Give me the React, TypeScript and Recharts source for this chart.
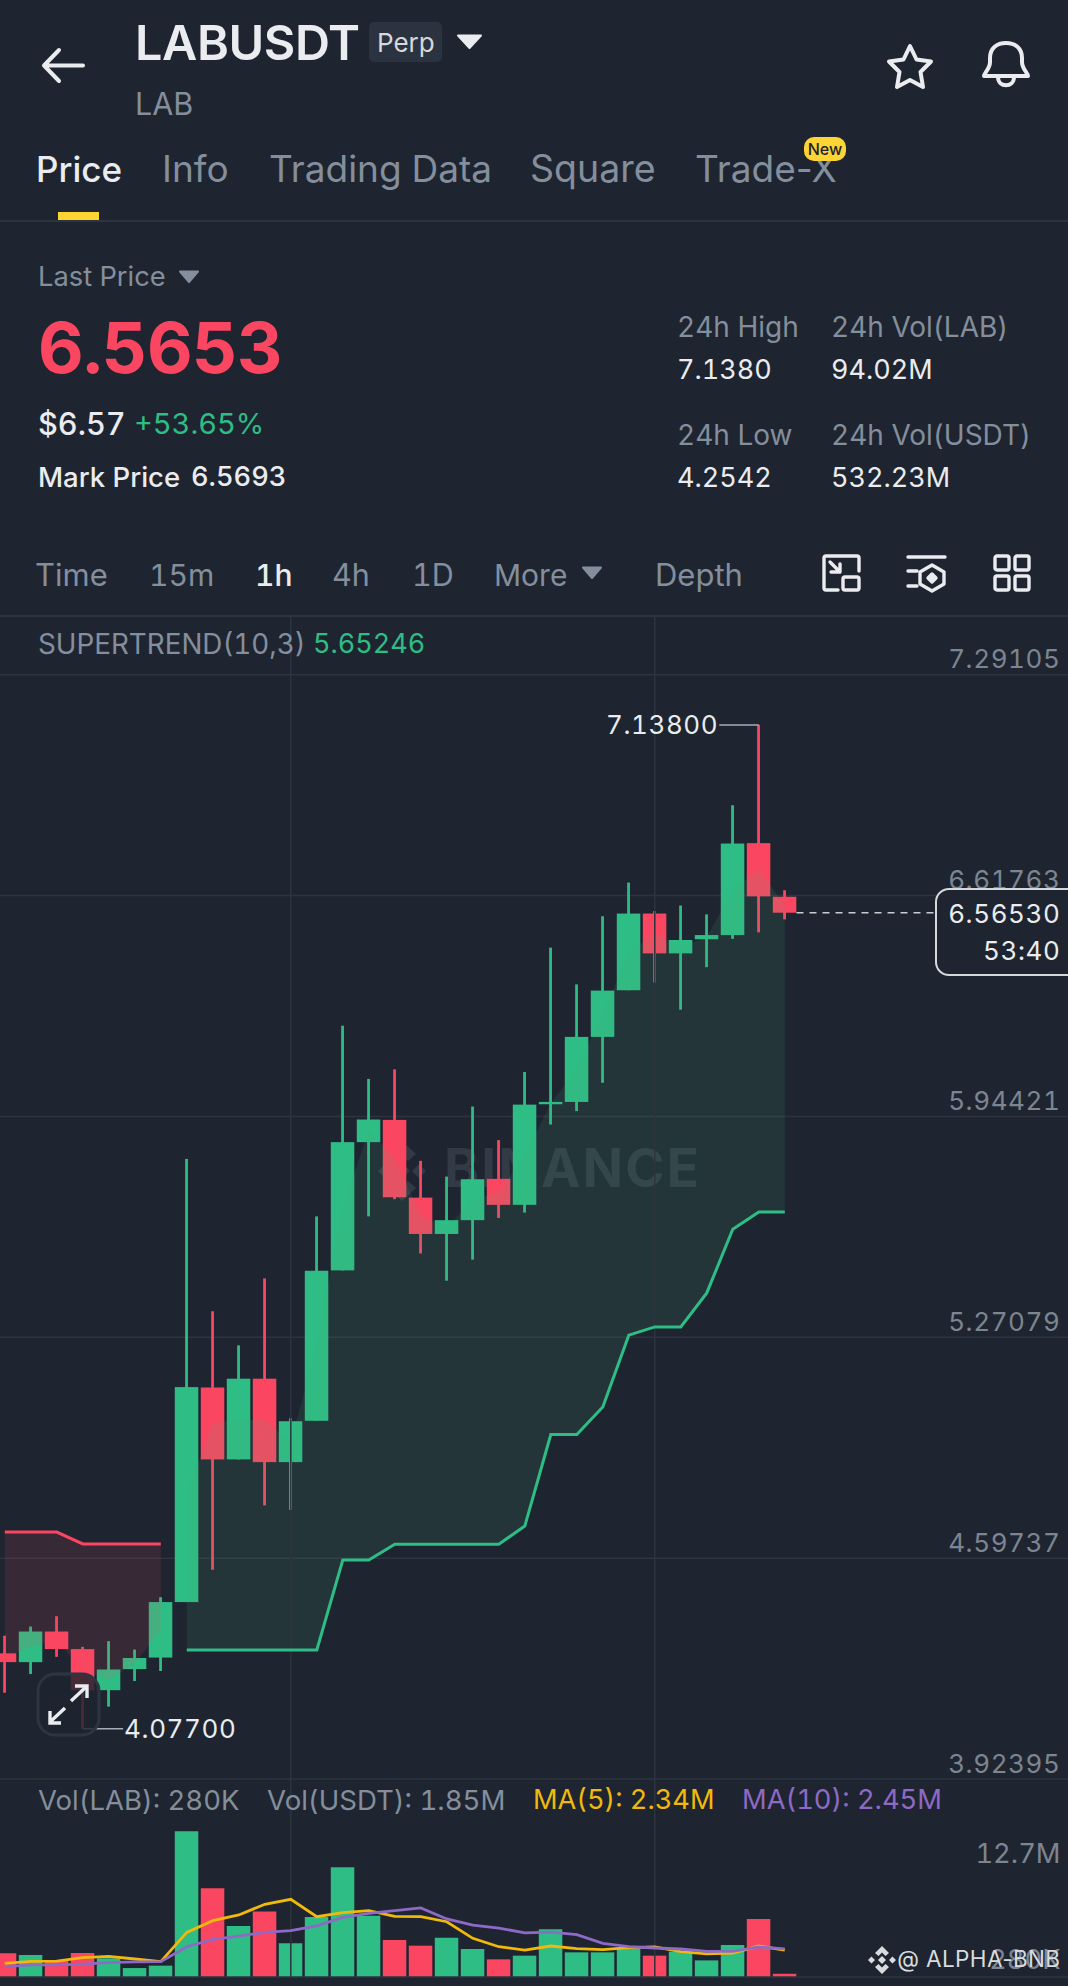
import React from 'react';
import { ComposedChart, Bar, Line, Area, Cell, XAxis, YAxis, CartesianGrid, ReferenceLine, ReferenceDot } from 'recharts';

const highs = [4.3609, 4.3888, 4.4202, 4.3269, 4.3442, 4.3186, 4.4784, 5.8146, 5.3501, 5.2461, 5.4504, 5.0243, 5.6395, 6.2209, 6.0586, 6.0876, 5.8088, 5.7609, 5.9744, 5.8719, 6.0796, 6.4588, 6.3468, 6.5545, 6.6573, 6.5707, 6.5872, 6.5603, 6.8931, 7.138, 6.6338];
const lows = [4.1869, 4.244, 4.2964, 4.077, 4.1447, 4.2228, 4.2533, 4.4634, 4.562, 4.8984, 4.7581, 4.744, 5.0161, 5.4748, 5.6395, 5.692, 5.5264, 5.4434, 5.5075, 5.6346, 5.6511, 5.9195, 5.9604, 6.0467, 6.329, 6.3526, 6.2697, 6.3993, 6.4856, 6.5054, 6.5451];
const opens = [4.3071, 4.2803, 4.3736, 4.32, 4.1948, 4.2591, 4.2942, 4.4634, 5.1177, 4.8984, 5.1445, 4.8901, 5.0161, 5.4748, 5.8658, 5.9336, 5.6966, 5.5858, 5.6279, 5.7539, 5.6746, 5.9814, 5.9884, 6.1867, 6.329, 6.5628, 6.4414, 6.4844, 6.4972, 6.7775, 6.614];
const closes = [4.2803, 4.3736, 4.32, 4.1948, 4.2579, 4.2929, 4.4634, 5.1189, 4.8984, 5.1445, 4.8901, 5.0149, 5.4736, 5.8658, 5.9348, 5.6978, 5.5858, 5.6279, 5.7527, 5.6746, 5.9802, 5.9884, 6.1867, 6.3279, 6.5628, 6.4414, 6.4822, 6.4972, 6.7763, 6.6152, 6.5653];
const trendDown = [4.6769, 4.6769, 4.6769, 4.6406, 4.6406, 4.6406, 4.6406, null, null, null, null, null, null, null, null, null, null, null, null, null, null, null, null, null, null, null, null, null, null, null, null];
const trendUp = [null, null, null, null, null, null, null, 4.3173, 4.3173, 4.3173, 4.3173, 4.3173, 4.3173, 4.5918, 4.5918, 4.6397, 4.6397, 4.6397, 4.6397, 4.6397, 4.6952, 4.974, 4.974, 5.0582, 5.2772, 5.3025, 5.3025, 5.4062, 5.6005, 5.65246, 5.65246];
const volumes = [2.06, 1.92, 1.42, 2.09, 1.63, 0.78, 0.99, 12.7, 7.73, 4.45, 5.7, 2.94, 5.23, 9.56, 5.35, 3.23, 2.73, 3.43, 2.44, 1.54, 1.86, 4.16, 2.15, 2.15, 2.5, 1.86, 2.21, 1.45, 2.79, 5.06, 0.28];
const ma5 = [1.19, 1.37, 1.39, 1.69, 1.8, 1.57, 1.34, 3.89, 4.91, 5.41, 6.34, 6.77, 5.26, 5.61, 5.78, 5.29, 5.26, 4.82, 3.37, 2.64, 2.35, 2.7, 2.47, 2.38, 2.56, 2.62, 2.21, 2.01, 2.09, 2.7, 2.34];
const ma10 = [0.9, 1.05, 1.05, 1.13, 1.25, 1.31, 1.34, 2.64, 3.28, 3.57, 3.89, 4.04, 4.45, 5.2, 5.55, 5.78, 6.02, 5.06, 4.53, 4.27, 3.84, 3.92, 3.69, 2.94, 2.64, 2.53, 2.44, 2.24, 2.24, 2.62, 2.45];
const priceTicks = [7.29105, 6.61763, 5.94421, 5.27079, 4.59737, 3.92395];
const volumeTicks = [12.7, 0.28];
const volumeTickLabels: Record<number, string> = { 12.7: '12.7M', 0.28: '280K' };

const BG = '#1E2530';
const GREEN = '#2EBD85';
const RED = '#FA4661';
const GRID = '#2D343F';
const GRAY = '#848E9C';
const WHITE = '#EAECEF';
const YELLOW = '#F0B90B';
const PURPLE = '#8E69C6';
const FONT = 'Inter, "Noto Sans", sans-serif';
const xDomain = [-0.1846, 40.892];

const rows = highs.map((high, i) => {
  const mid = (opens[i] + closes[i]) / 2;
  return {
    i,
    range: [lows[i], highs[i]],
    open: opens[i],
    close: closes[i],
    high,
    low: lows[i],
    trendDown: trendDown[i],
    trendUp: trendUp[i],
    bandDown: trendDown[i] === null ? null : [mid, trendDown[i]],
    bandUp: trendUp[i] === null ? null : [trendUp[i], mid],
    volume: volumes[i],
    ma5: ma5[i],
    ma10: ma10[i],
  };
});

const Candle = (props: any) => {
  const { x, y, width, height, payload } = props;
  const color = payload.close >= payload.open ? GREEN : RED;
  const h = Math.abs(height);
  const perUnit = h / (payload.high - payload.low);
  const bodyTop = y + (payload.high - Math.max(payload.open, payload.close)) * perUnit;
  const bodyH = Math.max(Math.abs(payload.open - payload.close) * perUnit, 2);
  return (
    <g>
      <rect x={x + width / 2 - 1.4} y={y} width={2.8} height={h} fill={color} />
      <rect x={x} y={bodyTop} width={width} height={bodyH} fill={color} />
    </g>
  );
};

const PriceTick = (props: any) => (
  <text x={1060.5} y={props.y - 6.5} textAnchor="end" fontFamily={FONT} fontSize={26} letterSpacing={0.6} fill="#7D8591">
    {props.payload.value.toFixed(5)}
  </text>
);

const VolumeTick = (props: any) => (
  <text x={1060.5} y={props.y + (props.payload.value > 1 ? 31.5 : -5)} textAnchor="end" fontFamily={FONT} fontSize={27.3} fill="#7D8591">
    {volumeTickLabels[props.payload.value]}
  </text>
);

const T = ({ x, right, y, size, color = WHITE, weight = 400, spacing = 0, proportional = false, children }: any) => (
  <span
    style={{
      position: 'absolute',
      left: x,
      right: right === undefined ? undefined : 1068 - right,
      top: y - 40,
      height: 80,
      lineHeight: '80px',
      fontSize: size,
      color,
      fontWeight: weight,
      letterSpacing: spacing,
      whiteSpace: 'nowrap',
      fontVariantNumeric: proportional ? 'normal' : 'tabular-nums',
    }}
  >
    {children}
  </span>
);

const Tri = ({ x, y, w, h, color }: any) => (
  <svg style={{ position: 'absolute', left: x, top: y }} width={w} height={h}>
    <path d={`M1 1.5 H${w - 1} L${w / 2} ${h - 1} Z`} fill={color} stroke={color} strokeLinejoin="round" strokeWidth={2} />
  </svg>
);

const PriceChart = () => (
  <ComposedChart width={1068} height={1166} data={rows} margin={{ top: 0, right: 0, bottom: 2, left: 0 }}>
    <CartesianGrid vertical={false} stroke={GRID} strokeWidth={1.5} />
    <XAxis dataKey="i" type="number" domain={xDomain} hide allowDataOverflow />
    <YAxis
      orientation="right"
      mirror
      domain={[3.92395, 7.47312]}
      ticks={priceTicks}
      axisLine={false}
      tickLine={false}
      tick={PriceTick}
      interval={0}
      allowDataOverflow
    />
    <ReferenceLine x={11} stroke={GRID} strokeWidth={1.5} />
    <ReferenceLine x={25} stroke={GRID} strokeWidth={1.5} />
    <Bar dataKey="range" barSize={23.5} shape={Candle} isAnimationActive={false} />
    <Area dataKey="bandDown" type="linear" stroke="none" fill={RED} fillOpacity={0.12} isAnimationActive={false} zIndex={350} />
    <Area dataKey="bandUp" type="linear" stroke="none" fill="#48AA7B" fillOpacity={0.12} isAnimationActive={false} zIndex={350} />
    <Line dataKey="trendDown" type="linear" stroke={RED} strokeWidth={3} dot={false} isAnimationActive={false} />
    <Line dataKey="trendUp" type="linear" stroke={GREEN} strokeWidth={3} dot={false} isAnimationActive={false} />
    <ReferenceLine segment={[{ x: 27.48, y: 7.138 }, { x: 29, y: 7.138 }]} stroke="#A7ADB6" strokeWidth={1.5} />
    <ReferenceLine segment={[{ x: 3, y: 4.077 }, { x: 4.55, y: 4.077 }]} stroke="#A7ADB6" strokeWidth={1.5} />
    <ReferenceLine segment={[{ x: 30.45, y: 6.5653 }, { x: 35.74, y: 6.5653 }]} stroke="#C9CCD1" strokeWidth={1.5} strokeDasharray="7 6" />
    <ReferenceDot x={27.48} y={7.138} r={0} stroke="none" label={{ value: '7.13800', position: 'left', offset: 1, fill: WHITE, fontSize: 26, fontFamily: FONT, letterSpacing: 0.6 }} />
    <ReferenceDot x={4.55} y={4.077} r={0} stroke="none" label={{ value: '4.07700', position: 'right', offset: 1, fill: WHITE, fontSize: 26, fontFamily: FONT, letterSpacing: 0.6 }} />
  </ComposedChart>
);

const VolumeChart = () => (
  <ComposedChart width={1068} height={207} data={rows} margin={{ top: 0, right: 0, bottom: 9, left: 0 }}>
    <XAxis dataKey="i" type="number" domain={xDomain} hide allowDataOverflow />
    <YAxis
      orientation="right"
      mirror
      domain={[0, 17.26]}
      ticks={volumeTicks}
      axisLine={false}
      tickLine={false}
      tick={VolumeTick}
      interval={0}
      allowDataOverflow
    />
    <ReferenceLine x={11} stroke={GRID} strokeWidth={1.5} />
    <ReferenceLine x={25} stroke={GRID} strokeWidth={1.5} />
    <ReferenceLine y={0} stroke={GRID} strokeWidth={1.5} />
    <Bar dataKey="volume" barSize={23.5} isAnimationActive={false}>
      {rows.map((r) => (
        <Cell key={r.i} fill={r.close >= r.open ? GREEN : RED} />
      ))}
    </Bar>
    <Line dataKey="ma5" type="linear" stroke={YELLOW} strokeWidth={2.8} dot={false} isAnimationActive={false} />
    <Line dataKey="ma10" type="linear" stroke={PURPLE} strokeWidth={2.8} dot={false} isAnimationActive={false} />
  </ComposedChart>
);

const Header = () => (
  <>
    <svg style={{ position: 'absolute', left: 40, top: 44 }} width={48} height={44} fill="none" stroke={WHITE} strokeWidth={4} strokeLinecap="round" strokeLinejoin="round">
      <path d="M4 21.5 H43 M19 6 L4 21.5 L19 37" />
    </svg>
    <T x={135} y={43} size={48.5} weight={600} spacing={-0.4}>LABUSDT</T>
    <div style={{ position: 'absolute', left: 369, top: 22, width: 73, height: 40, borderRadius: 5, background: '#2B3240' }} />
    <T x={377} y={43} size={26} color="#D5D8DC">Perp</T>
    <Tri x={457} y={34} w={25} h={15} color={WHITE} />
    <T x={135} y={104} size={30.5} color={GRAY}>LAB</T>
    <svg style={{ position: 'absolute', left: 884, top: 41 }} width={52} height={50} fill="none" stroke={WHITE} strokeWidth={4} strokeLinejoin="round">
      <path d="M26 5 L32.5 18.5 L47 20.5 L36.5 31 L39 46 L26 39 L13 46 L15.5 31 L5 20.5 L19.5 18.5 Z" />
    </svg>
    <svg style={{ position: 'absolute', left: 980, top: 38 }} width={52} height={54} fill="none" stroke={WHITE} strokeWidth={4} strokeLinejoin="round" strokeLinecap="round">
      <path d="M4 38 H48 C48 35 42 31 42 24 V20 C42 10 35 5 26 5 C17 5 10 10 10 20 V24 C10 31 4 35 4 38 Z" />
      <path d="M18 39 C18 50 34 50 34 39" />
    </svg>
    <T x={36} y={169} size={35} weight={500}>Price</T>
    <T x={162} y={169} size={37} color={GRAY}>Info</T>
    <T x={269} y={169} size={37} color={GRAY}>Trading Data</T>
    <T x={530} y={169} size={37.5} color={GRAY}>Square</T>
    <T x={695} y={169} size={37} color={GRAY} proportional>Trade-X</T>
    <div style={{ position: 'absolute', left: 804, top: 137, width: 42, height: 24, borderRadius: 10, background: '#FCD535', color: '#1E2329', fontSize: 16, fontWeight: 500, lineHeight: '24px', textAlign: 'center' }}>New</div>
    <div style={{ position: 'absolute', left: 58, top: 212, width: 41, height: 8, background: '#FCD535' }} />
    <div style={{ position: 'absolute', left: 0, top: 220, width: 1068, height: 1.5, background: GRID }} />

    <T x={38} y={277} size={27.3} color={GRAY}>Last Price</T>
    <Tri x={179} y={270} w={20} h={13} color={GRAY} />
    <T x={38} y={348} size={70.7} weight={700} color={RED} spacing={-0.5}>6.5653</T>
    <T x={38} y={424} size={30.7} weight={500}>$6.57</T>
    <T x={134} y={424} size={29} color={GREEN}>+53.65%</T>
    <T x={38} y={477} size={27.5} weight={500}>Mark Price</T>
    <T x={191} y={477} size={27.2} weight={500}>6.5693</T>

    <T x={677} y={327} size={28} color={GRAY}>24h High</T>
    <T x={677} y={370} size={27}>7.1380</T>
    <T x={831} y={327} size={28} color={GRAY}>24h Vol(LAB)</T>
    <T x={831} y={370} size={27}>94.02M</T>
    <T x={677} y={435} size={28} color={GRAY}>24h Low</T>
    <T x={677} y={478} size={27}>4.2542</T>
    <T x={831} y={435} size={28} color={GRAY}>24h Vol(USDT)</T>
    <T x={831} y={478} size={27}>532.23M</T>

    <T x={35} y={575} size={31} color={GRAY}>Time</T>
    <T x={149} y={575} size={30} color={GRAY}>15m</T>
    <T x={255} y={575} size={30} weight={500}>1h</T>
    <T x={332} y={575} size={30.5} color={GRAY}>4h</T>
    <T x={412} y={575} size={30.5} color={GRAY}>1D</T>
    <T x={494} y={575} size={30} color={GRAY}>More</T>
    <Tri x={582} y={566} w={20} h={13} color={GRAY} />
    <T x={655} y={575} size={31} color={GRAY}>Depth</T>
    <svg style={{ position: 'absolute', left: 820, top: 552 }} width={44} height={44} fill="none" stroke={WHITE} strokeWidth={3.4} strokeLinecap="round" strokeLinejoin="round">
      <path d="M18 38 H6 C4.5 38 4 37.5 4 36 V6 C4 4.500 4.500 4 6 4 H37 C38.500 4 39 4.500 39 6 V19" />
      <rect x={23} y={25} width={16} height={13} rx={2} />
      <path d="M10 10 L20 20 M11 20 H20 V12" />
    </svg>
    <svg style={{ position: 'absolute', left: 904, top: 552 }} width={44} height={44} fill="none" stroke={WHITE} strokeWidth={3.4} strokeLinecap="round" strokeLinejoin="round">
      <path d="M4 5 H41 M4 19 H13 M4 34 H13" />
      <path d="M28 13 L40 20 V32 L28 39 L16 32 V20 Z" />
      <path d="M28 22 L32 26 L28 30 L24 26 Z" fill={WHITE} />
    </svg>
    <svg style={{ position: 'absolute', left: 990, top: 552 }} width={44} height={44} fill="none" stroke={WHITE} strokeWidth={3.4}>
      <rect x={5} y={4} width={14} height={14} rx={2} />
      <rect x={25} y={4} width={14} height={14} rx={2} />
      <rect x={5} y={24} width={14} height={14} rx={2} />
      <rect x={25} y={24} width={14} height={14} rx={2} />
    </svg>
    <div style={{ position: 'absolute', left: 0, top: 615, width: 1068, height: 1.5, background: GRID }} />
  </>
);

const Watermark = () => (
  <>
    <svg style={{ position: 'absolute', left: 368, top: 1139 }} width={68} height={64} fill="#323B45">
      <path d="M34 2 L48 15 L40 22 L34 16 L28 22 L20 15 Z M34 62 L20 49 L28 42 L34 48 L40 42 L48 49 Z M10 32 L17 25 L24 32 L17 39 Z M44 32 L51 25 L58 32 L51 39 Z M34 24 L42 32 L34 40 L26 32 Z" />
    </svg>
    <T x={444} y={1168} size={53} weight={700} color="#323B45" spacing={2.2}>BINANCE</T>
  </>
);

const Overlays = () => (
  <>
    <T x={38} y={644} size={27.8} color={GRAY}>SUPERTREND(10,3)</T>
    <T x={313} y={644} size={27} color={GREEN}>5.65246</T>

    <div style={{ position: 'absolute', left: 935, top: 888, width: 150, height: 88, borderRadius: 14, border: '2px solid #D5D8DC', background: BG, boxSizing: 'border-box' }} />
    <T right={1060.5} y={914} size={26} spacing={0.6}>6.56530</T>
    <T right={1060.5} y={951} size={26} spacing={0.6}>53:40</T>

    <svg style={{ position: 'absolute', left: 36, top: 1672 }} width={66} height={66}>
      <rect x={2} y={2} width={61} height={61} rx={17} fill={BG} fillOpacity={0.82} stroke="#2E3542" strokeWidth={3} />
      <path d="M35 29 L50 15 M39 14 H51 V26 M29 36 L14 50 M25 51 H14 V39" fill="none" stroke={WHITE} strokeWidth={3.4} />
    </svg>

    <T x={38} y={1800} size={27.5} color={GRAY}>Vol(LAB): 280K</T>
    <T x={267} y={1800} size={27.6} color={GRAY}>Vol(USDT): 1.85M</T>
    <T x={533} y={1800} size={27.2} color={YELLOW}>MA(5): 2.34M</T>
    <T x={742} y={1800} size={27.3} color={PURPLE}>MA(10): 2.45M</T>

    <svg style={{ position: 'absolute', left: 867, top: 1945 }} width={30} height={30} fill="#D9DBDE">
      <path d="M15 1 L22 8 L18.500 11 L15 7.500 L11.500 11 L8 8 Z M15 29 L8 22 L11.500 19 L15 22.500 L18.500 19 L22 22 Z M1 15 L4.500 11.500 L8 15 L4.500 18.500 Z M22 15 L25.500 11.500 L29 15 L25.500 18.500 Z M15 11 L19 15 L15 19 L11 15 Z" />
    </svg>
    <T right={1060.5} y={1959} size={22.5} color="#D9DBDE" spacing={0.4} proportional>@ ALPHA-BNB</T>
  </>
);

export default function App() {
  return (
    <div style={{ position: 'absolute', left: 0, top: 0, width: 1068, height: 1986, overflow: 'hidden', background: BG, fontFamily: FONT, fontVariantNumeric: 'tabular-nums' }}>
      <Header />
      <Watermark />
      <div style={{ position: 'absolute', left: 0, top: 615 }}>
        <PriceChart />
      </div>
      <div style={{ position: 'absolute', left: 0, top: 1779 }}>
        <VolumeChart />
      </div>
      <Overlays />
    </div>
  );
}
